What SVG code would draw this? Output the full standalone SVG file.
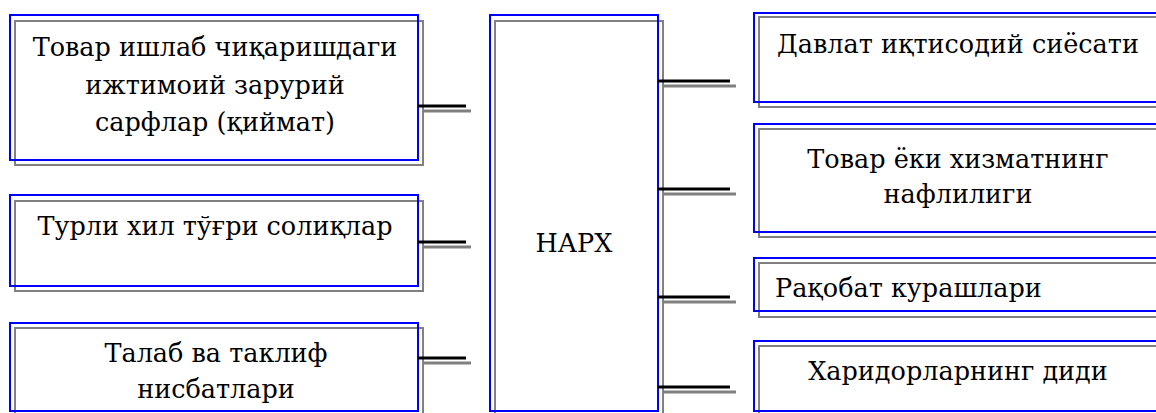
<svg xmlns="http://www.w3.org/2000/svg" width="1156" height="413" viewBox="0 0 1156 413">
<style>
.sh{fill:none;stroke:#808080;stroke-width:2}
.bx{fill:none;stroke:#0000ff;stroke-width:2}
.cb{stroke:#000;stroke-width:3}
.cs{stroke:#808080;stroke-width:3}
</style>
<rect width="1156" height="413" fill="#fff"/>
<g font-family="DejaVu Serif, serif" font-size="25.5" fill="#000" text-anchor="middle">
<g id="n1">
<rect class="sh" x="15" y="21" width="408" height="144"/>
<rect class="bx" x="10" y="15" width="408" height="145"/>
<text x="215" y="56">Товар ишлаб чиқаришдаги</text>
<text x="215" y="94">ижтимоий зарурий</text>
<text x="215" y="131">сарфлар (қиймат)</text>
</g>
<g id="n2">
<rect class="sh" x="15" y="201" width="408" height="90"/>
<rect class="bx" x="10" y="195" width="408" height="91"/>
<text x="215" y="235">Турли хил тўғри солиқлар</text>
</g>
<g id="n3">
<rect class="sh" x="15" y="328" width="408" height="90"/>
<rect class="bx" x="10" y="323" width="408" height="88"/>
<text x="216" y="362">Талаб ва таклиф</text>
<text x="216" y="398">нисбатлари</text>
</g>
<g id="center">
<rect class="sh" x="495" y="21" width="168" height="397"/>
<rect class="bx" x="490" y="15" width="168" height="396"/>
<text x="574" y="252">НАРХ</text>
</g>
<g id="r1">
<rect class="sh" x="759" y="17" width="410" height="90"/>
<rect class="bx" x="754" y="13" width="408" height="89"/>
<text x="958" y="53">Давлат иқтисодий сиёсати</text>
</g>
<g id="r2">
<rect class="sh" x="759" y="129" width="410" height="108"/>
<rect class="bx" x="754" y="124" width="408" height="108"/>
<text x="958" y="168">Товар ёки хизматнинг</text>
<text x="958" y="203">нафлилиги</text>
</g>
<g id="r3">
<rect class="sh" x="759" y="263" width="410" height="54"/>
<rect class="bx" x="754" y="258" width="408" height="53"/>
<text x="775" y="297" text-anchor="start">Рақобат курашлари</text>
</g>
<g id="r4">
<rect class="sh" x="759" y="346" width="410" height="72"/>
<rect class="bx" x="754" y="341" width="408" height="70"/>
<text x="958" y="380">Харидорларнинг диди</text>
</g>
</g>
<g id="connectors">
<line class="cs" x1="423" y1="111" x2="471" y2="111"/>
<line class="cb" x1="418" y1="106" x2="466" y2="106"/>
<line class="cs" x1="423" y1="247" x2="471" y2="247"/>
<line class="cb" x1="418" y1="242" x2="466" y2="242"/>
<line class="cs" x1="423" y1="363" x2="471" y2="363"/>
<line class="cb" x1="418" y1="358" x2="466" y2="358"/>
<line class="cs" x1="663" y1="86" x2="736" y2="86"/>
<line class="cb" x1="658" y1="81" x2="730" y2="81"/>
<line class="cs" x1="663" y1="194" x2="736" y2="194"/>
<line class="cb" x1="658" y1="189" x2="730" y2="189"/>
<line class="cs" x1="663" y1="302" x2="736" y2="302"/>
<line class="cb" x1="658" y1="297" x2="730" y2="297"/>
<line class="cs" x1="663" y1="392" x2="736" y2="392"/>
<line class="cb" x1="658" y1="387" x2="730" y2="387"/>
</g>
</svg>
